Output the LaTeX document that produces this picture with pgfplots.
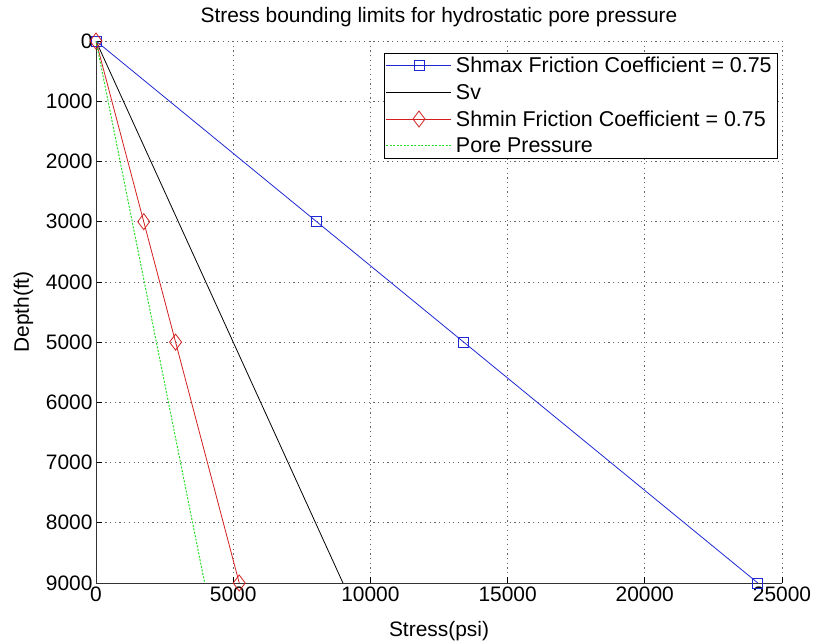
\documentclass[border=0pt]{standalone}
\usepackage{fontspec}
\setmainfont{Liberation Sans}
\usepackage{pgfplots}
\pgfplotsset{compat=1.18}
\definecolor{mblue}{RGB}{30,40,210}
\definecolor{mred}{RGB}{210,30,30}
\definecolor{mgreen}{RGB}{40,220,40}
\begin{document}
\begin{tikzpicture}
\begin{axis}[
    scale only axis,
    width=686bp, height=542bp,
    xmin=0, xmax=25000, ymin=0, ymax=9000,
    y dir=reverse,
    axis x line*=bottom, axis y line*=left,
    xtick={0,5000,...,25000}, ytick={0,1000,...,9000},
    grid=major,
    grid style={dash pattern=on 1.2bp off 3.5bp, black!60, line width=0.7pt},
    tick align=inside, major tick length=6bp,
    tick style={black, line width=0.7pt},
    axis line style={black!80, line width=0.8pt, -},
    font=\fontsize{21}{25}\selectfont,
    ticklabel style={font=\fontsize{21}{25}\selectfont},
    /pgf/number format/assume math mode=true,
    /pgf/number format/1000 sep={},
    scaled ticks=false,
    title={Stress bounding limits for hydrostatic pore pressure},
    title style={yshift=5bp},
    xlabel={Stress(psi)}, ylabel={Depth(ft)},
    xlabel style={yshift=-13bp}, ylabel style={yshift=6bp},
    legend style={at={(0.994,0.978)}, anchor=north east,
        inner sep=2bp,
        font=\fontsize{21.5}{25}\selectfont, row sep=6bp,
        nodes={inner xsep=4bp}},
    legend cell align=left,
    legend image code/.code={\draw[#1, line width=1pt] (0bp,0bp) -- (65bp,0bp);
        \draw[#1, mark repeat=2, mark phase=2] plot coordinates {(0bp,0bp) (32.5bp,0bp) (65bp,0bp)};},
]
\addplot[mblue, line width=0.8pt, mark=square, mark size=5bp, mark options={solid, line width=0.8pt}]
    coordinates {(0,0) (8040,3000) (13400,5000) (24120,9000)};
\addplot[black, line width=0.8pt]
    coordinates {(0,0) (3000,3000) (5000,5000) (9000,9000)};
\addplot[mred, line width=0.8pt, mark=diamond, mark size=8bp, mark options={solid, line width=0.8pt}]
    coordinates {(0,0) (1740,3000) (2900,5000) (5220,9000)};
\addplot[mgreen, line width=1pt, dash pattern=on 2bp off 1.5bp]
    coordinates {(0,0) (1320,3000) (2200,5000) (3960,9000)};
\legend{Shmax Friction Coefficient = 0.75, Sv, Shmin Friction Coefficient = 0.75, Pore Pressure}
\end{axis}
\pgfresetboundingbox
\path[use as bounding box] ([shift={(-96bp,-61bp)}]current axis.south west)
    rectangle ([shift={(36bp,41bp)}]current axis.north east);
\end{tikzpicture}
\end{document}
